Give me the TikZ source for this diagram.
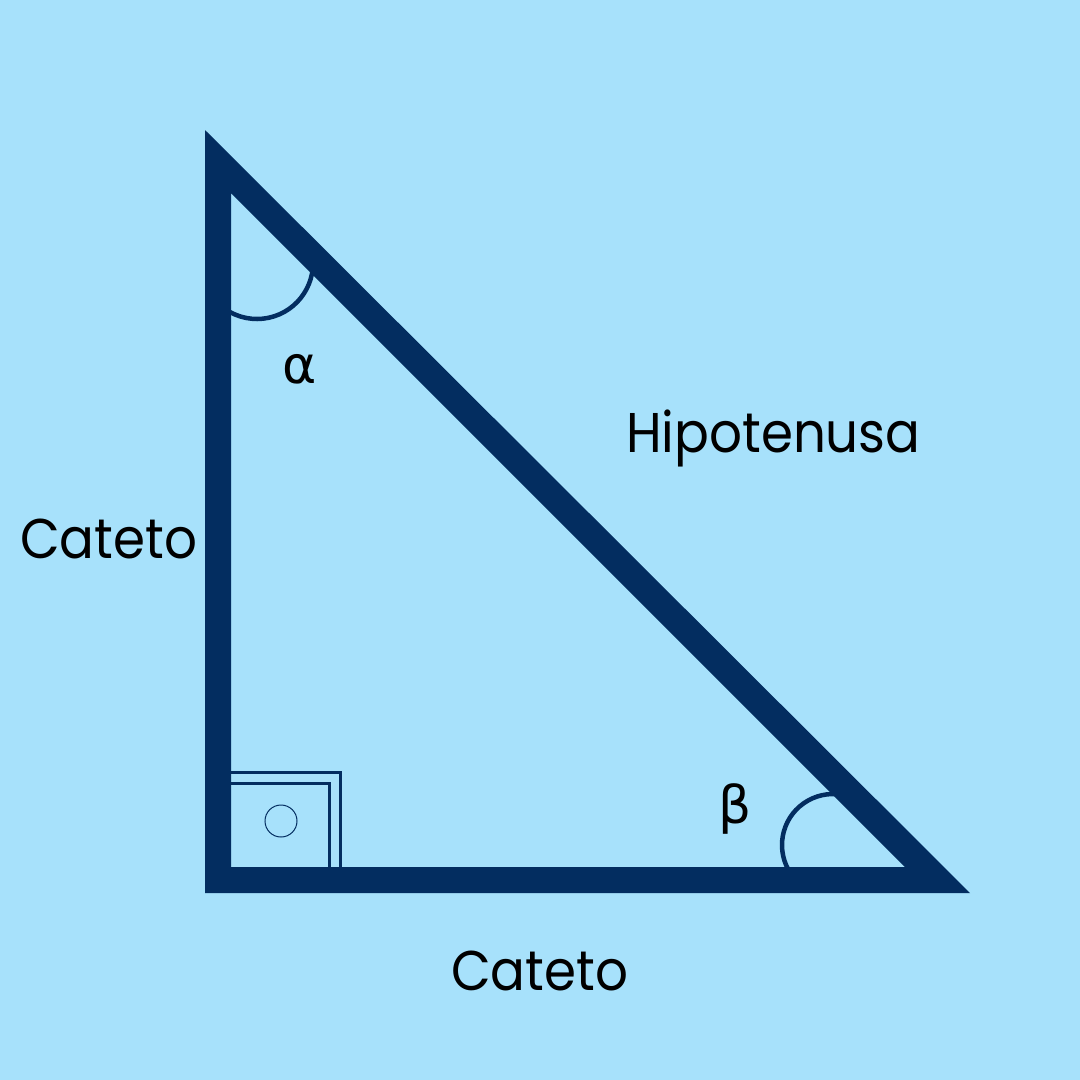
\documentclass[tikz,border=0pt]{standalone}
\usepackage{fontspec}
\setmainfont{Poppins}[FakeStretch=0.92]
\newfontfamily\greekfont{DejaVu Sans}
\definecolor{bgblue}{HTML}{A7E1FB}
\definecolor{navy}{HTML}{032D60}
\begin{document}
\begin{tikzpicture}[x=1pt,y=-1pt,
  lbl/.style={inner sep=0pt,anchor=base west,font=\fontsize{56}{60}\selectfont,text=black},
  glbl/.style={inner sep=0pt,anchor=base west,font=\greekfont\fontsize{52}{56}\selectfont,text=black},
  anglearc/.style={draw=navy,line width=4.5pt},
  sqline/.style={draw=navy,line width=3pt}]
\fill[bgblue] (0,0) rectangle (1080,1080);
\useasboundingbox (0,0) rectangle (1080,1080);
% angle arcs
\draw[anglearc] (257,263) ++(-12:56) arc[start angle=-12,end angle=125,radius=56];
\draw[anglearc] (833,845) ++(145:51) arc[start angle=145,end angle=280,radius=51];
% right angle marks
\draw[sqline] (225,772.5) -- (340,772.5) -- (340,870);
\draw[sqline] (225,783.5) -- (329.5,783.5) -- (329.5,870);
\node[draw=navy,line width=1pt,circle,minimum size=32pt,inner sep=0pt] (dot) at (281,821) {};
% triangle
\coordinate (A) at (205,130);
\coordinate (B) at (205,893);
\coordinate (C) at (970,893);
\fill[navy,even odd rule] (A) -- (B) -- (C) -- cycle
  (231,193) -- (231,867) -- (905,867) -- cycle;
% labels
\node[lbl] (cl) at (20,558) {Cateto};
\node[lbl] (hy) at (626,452) {Hipotenusa};
\node[lbl] (cb) at (451,990) {Cateto};
\node[glbl] (al) at (282,383) {α};
\node[glbl] (be) at (718,823) {β};
\end{tikzpicture}
\end{document}
